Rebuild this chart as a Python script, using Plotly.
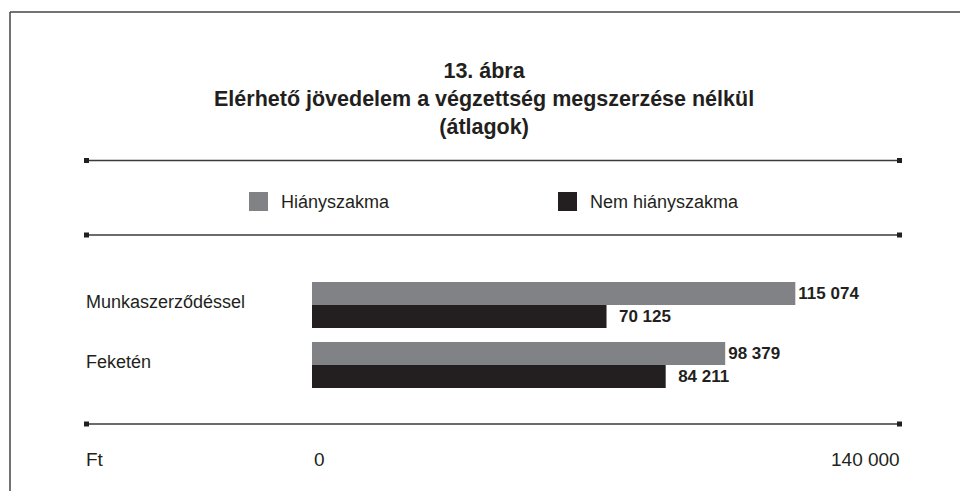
import plotly.graph_objects as go

# ---- data ----
categories = ["Munkaszerződéssel", "Feketén"]
series_names = ["Hiányszakma", "Nem hiányszakma"]
hiany_values = [115074, 98379]
nem_hiany_values = [70125, 84211]
tick_values = [0, 140000]
tick_labels = ["0", "140 000"]
axis_unit = "Ft"
title_lines = ["13. ábra", "Elérhető jövedelem a végzettség megszerzése nélkül", "(átlagok)"]

# ---- style ----
W, H = 968, 491
OFF = 8  # page body margin of the html page
FONT = "Liberation Sans, Arial, Helvetica, sans-serif"
GRAY = "#808285"
BLACK = "#231f20"
TXT = "#231f20"
LINE = "#3a3a3a"


def px(x):
    return (x - OFF) / W


def py(y):
    return 1 - (y - OFF) / H


def fmt(v):
    return f"{v:,}".replace(",", " ")


colors = [GRAY, BLACK]
label_pads = ["", "\u00a0\u00a0"]  # extra gap before the labels of the dark bars
series_values = [hiany_values, nem_hiany_values]

fig = go.Figure()
for name, vals, col, pad in zip(series_names, series_values, colors, label_pads):
    fig.add_trace(go.Bar(
        y=categories, x=vals, name=name, orientation="h",
        marker=dict(color=col, line=dict(width=0)),
        text=[pad + fmt(v) for v in vals], textposition="outside",
        textfont=dict(family=FONT, size=17, color=TXT, weight="bold"),
        cliponaxis=False, showlegend=False, hoverinfo="skip",
    ))

shapes = []
# frame (left and top edges)
shapes.append(dict(type="line", xref="paper", yref="paper", x0=px(10), x1=1, y0=py(12), y1=py(12),
                   line=dict(color="#444", width=1.5)))
shapes.append(dict(type="line", xref="paper", yref="paper", x0=px(10), x1=px(10), y0=py(12), y1=0,
                   line=dict(color="#444", width=1.5)))
# separator lines with square ends
for ly in [160.5, 235, 424]:
    shapes.append(dict(type="line", xref="paper", yref="paper", x0=px(86), x1=px(900), y0=py(ly), y1=py(ly),
                       line=dict(color=LINE, width=1.6)))
    for lx in (84, 897):
        shapes.append(dict(type="rect", xref="paper", yref="paper", x0=px(lx), x1=px(lx + 5),
                           y0=py(ly + 2.5), y1=py(ly - 2.5), fillcolor=BLACK, line=dict(width=0)))

annotations = []
# title
annotations.append(dict(text="<br>".join(title_lines), xref="paper", yref="paper", x=px(484), y=py(99),
                        xanchor="center", yanchor="middle", align="center", showarrow=False,
                        font=dict(family=FONT, size=21.5, color=TXT, weight="bold")))
# legend
for name, col, sx in zip(series_names, colors, [249, 558]):
    shapes.append(dict(type="rect", xref="paper", yref="paper", x0=px(sx), x1=px(sx + 19),
                       y0=py(211), y1=py(192), fillcolor=col, line=dict(width=0)))
    annotations.append(dict(text=name, xref="paper", yref="paper", x=px(sx + 30), y=py(202),
                            xanchor="left", yanchor="middle", showarrow=False,
                            font=dict(family=FONT, size=18, color=TXT)))
# category labels
for c in categories:
    annotations.append(dict(text=c, xref="paper", yref="y", x=px(84), y=c, xanchor="left",
                            yanchor="middle", yshift=3, showarrow=False,
                            font=dict(family=FONT, size=18, color=TXT)))
# axis labels
annotations.append(dict(text=axis_unit, xref="paper", yref="paper", x=px(84), y=py(459), xanchor="left",
                        yanchor="middle", showarrow=False, font=dict(family=FONT, size=19, color=TXT)))
for tv, tl, anc, sh in zip(tick_values, tick_labels, ["left", "right"], [0, 2]):
    annotations.append(dict(text=tl, xref="x", yref="paper", x=tv, y=py(459), xanchor=anc, xshift=sh,
                            yanchor="middle", showarrow=False, font=dict(family=FONT, size=19, color=TXT)))

fig.update_layout(
    width=W, height=H,
    margin=dict(l=0, r=0, t=0, b=0),
    paper_bgcolor="white", plot_bgcolor="white",
    barmode="group", bargap=0.233, bargroupgap=0,
    xaxis=dict(domain=[px(312), px(900)], range=[tick_values[0], tick_values[-1]], visible=False),
    yaxis=dict(domain=[py(395), py(275)], categoryorder="array", categoryarray=categories,
               autorange="reversed", visible=False),
    shapes=shapes, annotations=annotations,
)

fig.write_html("out.html")
